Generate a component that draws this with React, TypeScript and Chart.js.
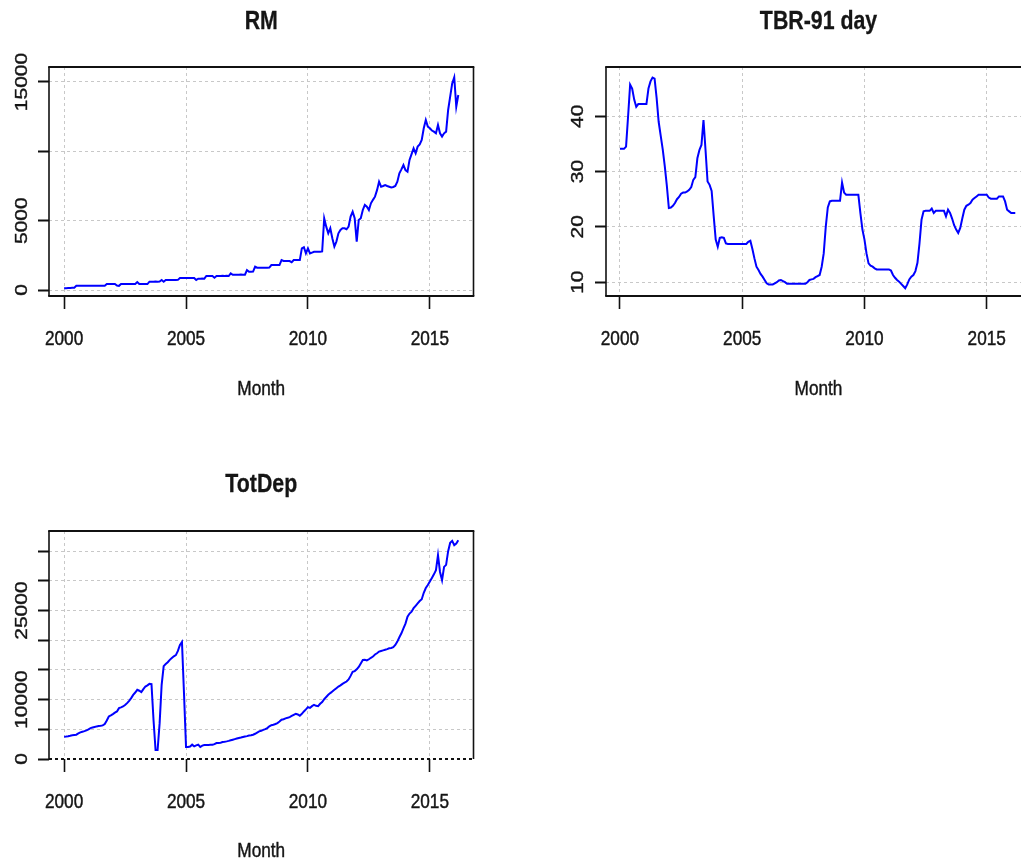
import React, { useEffect, useRef } from "react";
import { Chart, registerables } from "chart.js";

Chart.register(...registerables);

// ---------- data ----------
const START_YEAR = 2000; // monthly series, first observation January 2000

const xTicks = [2000, 2005, 2010, 2015];
const xTickLabels = ["2000", "2005", "2010", "2015"];

const rmValues = [
  120, 130, 140, 150, 160, 170, 300, 305, 305, 310, 310, 310,
  310, 310, 310, 310, 310, 310, 310, 310, 310, 430, 430, 430,
  430, 430, 320, 300, 430, 430, 430, 430, 430, 430, 430, 430,
  575, 430, 430, 430, 430, 430, 600, 600, 600, 610, 600, 610,
  720, 600, 720, 720, 730, 720, 730, 720, 730, 865, 865, 870,
  865, 870, 865, 870, 870, 720, 820, 820, 830, 820, 1010, 1010,
  1010, 1010, 890, 1010, 1010, 1010, 1020, 1010, 1020, 1010, 1200, 1100,
  1100, 1100, 1100, 1110, 1100, 1100, 1440, 1320, 1320, 1330, 1680, 1610,
  1610, 1610, 1610, 1610, 1610, 1620, 1800, 1800, 1800, 1810, 1800, 2160,
  2090, 2090, 2090, 2090, 2000, 2160, 2160, 2160, 2160, 3000, 3080, 2640,
  3000, 2640, 2700, 2760, 2760, 2760, 2760, 2780, 5170, 4570, 4090, 4450,
  3730, 3130, 3490, 4090, 4330, 4450, 4450, 4380, 4570, 5290, 5650, 5170,
  3490, 5050, 5170, 5770, 6130, 6010, 5770, 6250, 6500, 6730, 7200, 7810,
  7450, 7500, 7570, 7500, 7450, 7400, 7430, 7500, 7810, 8410, 8700, 9010,
  8650, 8530, 9380, 9800, 10220, 9860, 10340, 10500, 10820, 11660, 12260, 11780,
  11660, 11500, 11420, 11300, 11900, 11300, 11060, 11300, 11420, 12980, 13940, 14900,
  15340, 13220, 14060,
];

const tbrValues = [
  34.1, 34.1, 34.1, 34.5, 40.0, 45.7, 45.0, 43.0, 41.7, 42.2, 42.2, 42.2,
  42.2, 42.2, 45.0, 46.3, 47.0, 46.8, 43.3, 39.0, 36.5, 34.0, 31.0, 27.5,
  23.4, 23.5, 23.8, 24.3, 25.0, 25.4, 26.0, 26.2, 26.2, 26.4, 26.7, 27.2,
  28.5, 29.0, 32.4, 33.9, 34.8, 39.3, 33.9, 28.2, 27.6, 26.5, 22.0, 17.7,
  16.4, 18.0, 18.1, 18.0, 17.0, 16.9, 16.9, 16.9, 16.9, 16.9, 16.9, 16.9,
  16.9, 16.9, 16.9, 17.3, 17.5, 16.0, 14.3, 12.8, 12.2, 11.5, 11.0, 10.4,
  9.8, 9.6, 9.6, 9.6, 9.8, 10.0, 10.3, 10.4, 10.2, 10.0, 9.7, 9.7,
  9.7, 9.7, 9.7, 9.7, 9.7, 9.7, 9.7, 9.7, 10.0, 10.4, 10.5, 10.6,
  10.9, 11.1, 11.3, 12.8, 15.2, 20.0, 23.5, 24.6, 24.7, 24.7, 24.7, 24.7,
  24.7, 28.0, 26.2, 25.8, 25.8, 25.8, 25.8, 25.8, 25.8, 25.8, 22.5, 19.5,
  17.7, 15.2, 13.4, 13.0, 12.8, 12.5, 12.3, 12.3, 12.3, 12.3, 12.3, 12.3,
  12.3, 12.1, 11.3, 10.8, 10.4, 10.1, 9.7, 9.3, 8.9, 9.6, 10.5, 11.0,
  11.3, 12.0, 13.5, 17.0, 21.3, 22.8, 22.9, 22.9, 22.9, 23.3, 22.5, 22.9,
  22.9, 22.9, 22.9, 22.9, 21.9, 23.1, 22.5, 21.5, 20.3, 19.5, 18.9, 19.8,
  21.5, 23.1, 23.8, 24.0, 24.3, 24.9, 25.2, 25.5, 25.8, 25.8, 25.8, 25.8,
  25.8, 25.3, 25.1, 25.1, 25.1, 25.1, 25.5, 25.5, 25.5, 24.6, 23.1, 22.8,
  22.5, 22.5, 22.5,
];

const totDepValues = [
  3760, 3800, 3850, 3920, 4000, 4050, 4090, 4300, 4480, 4600, 4700, 4820,
  5000, 5200, 5300, 5400, 5490, 5550, 5600, 5660, 5880, 6500, 7170, 7350,
  7560, 7800, 8010, 8570, 8700, 8850, 9100, 9410, 9800, 10250, 10800, 11200,
  11650, 11500, 11260, 11760, 12210, 12400, 12660, 12620, 6560, 1500, 1500, 6000,
  12500, 15650, 16000, 16300, 16700, 17000, 17300, 17500, 18200, 19200, 19700, 11050,
  2020, 2020, 2100, 2410, 2130, 2300, 2410, 2020, 2250, 2350, 2350, 2350,
  2380, 2410, 2500, 2690, 2700, 2750, 2850, 2900, 2970, 3050, 3150, 3250,
  3350, 3450, 3550, 3620, 3700, 3780, 3850, 3950, 4000, 4090, 4250, 4450,
  4650, 4750, 4900, 5040, 5200, 5500, 5700, 5770, 5900, 6050, 6300, 6610,
  6700, 6850, 6950, 7060, 7250, 7450, 7620, 7500, 7300, 7600, 8010, 8350,
  8740, 8600, 8900, 9130, 8950, 8900, 9300, 9600, 10080, 10450, 10810, 11100,
  11370, 11650, 11930, 12200, 12400, 12660, 12850, 13050, 13400, 14000, 14670, 14800,
  15100, 15500, 16100, 16690, 16700, 16600, 16800, 17050, 17250, 17600, 17810, 18090,
  18200, 18300, 18400, 18500, 18650, 18700, 18820, 19200, 19770, 20500, 21170, 22000,
  22800, 23970, 24500, 24810, 25400, 25800, 26210, 26600, 26900, 28000, 28800, 29290,
  29900, 30500, 31100, 31800, 34330, 31500, 30120, 32360, 32700, 35000, 36400, 36740,
  36010, 36300, 36850,
];

const rmYTicks = [0, 5000, 10000, 15000];
const rmYLabels = ["0", "5000", "", "15000"];
const tbrYTicks = [10, 20, 30, 40];
const tbrYLabels = ["10", "20", "30", "40"];
const totYTicks = [0, 5000, 10000, 15000, 20000, 25000, 30000, 35000];
const totYLabels = ["0", "", "10000", "", "", "25000", "", ""];

// ---------- layout / style ----------
const CW = 1040;
const CH = 867;
const SX = 0.82; // horizontal squeeze of the reference's lettering
const FONT = '"Liberation Sans", Arial, Helvetica, sans-serif';
const TEXT = "#151515";
const GRID = "#c8c8c8";
const LINE = "#0000ff";

type Panel = {
  title: string;
  values: number[];
  yTicks: number[];
  yLabels: string[];
  xMin: number;
  xMax: number;
  yMin: number;
  yMax: number;
  area: { l: number; t: number; r: number; b: number };
  titleY: number;
  xLabelY: number;
  monthY: number;
  yLabelX: number;
  dottedBottom: boolean;
};

const PANELS: Panel[] = [
  {
    title: "RM",
    values: rmValues,
    yTicks: rmYTicks,
    yLabels: rmYLabels,
    xMin: 1999.38,
    xMax: 2016.79,
    yMin: -432,
    yMax: 16080,
    area: { l: 49, t: 67, r: 473.5, b: 296 },
    titleY: 28.5,
    xLabelY: 344.5,
    monthY: 394.5,
    yLabelX: 26.5,
    dottedBottom: false,
  },
  {
    title: "TBR-91 day",
    values: tbrValues,
    yTicks: tbrYTicks,
    yLabels: tbrYLabels,
    xMin: 1999.43,
    xMax: 2016.81,
    yMin: 7.5,
    yMax: 48.9,
    area: { l: 606, t: 67, r: 1031, b: 296 },
    titleY: 28.5,
    xLabelY: 344.5,
    monthY: 394.5,
    yLabelX: 582.5,
    dottedBottom: false,
  },
  {
    title: "TotDep",
    values: totDepValues,
    yTicks: totYTicks,
    yLabels: totYLabels,
    xMin: 1999.38,
    xMax: 2016.79,
    yMin: 0,
    yMax: 38400,
    area: { l: 49, t: 531, r: 473.5, b: 759 },
    titleY: 491.5,
    xLabelY: 808,
    monthY: 857,
    yLabelX: 26.5,
    dottedBottom: true,
  },
];

function drawText(
  ctx: CanvasRenderingContext2D,
  text: string,
  x: number,
  y: number,
  font: string,
  rotate = false,
  stroke = 0.45
) {
  if (!text) return;
  ctx.save();
  ctx.translate(x, y);
  ctx.scale(SX, 1);
  if (rotate) ctx.rotate(-Math.PI / 2);
  ctx.font = font;
  ctx.fillStyle = TEXT;
  ctx.strokeStyle = TEXT;
  ctx.lineWidth = stroke;
  ctx.textAlign = "center";
  ctx.textBaseline = "alphabetic";
  ctx.fillText(text, 0, 0);
  if (stroke > 0) ctx.strokeText(text, 0, 0);
  ctx.restore();
}

function line(ctx: CanvasRenderingContext2D, x1: number, y1: number, x2: number, y2: number) {
  ctx.beginPath();
  ctx.moveTo(x1, y1);
  ctx.lineTo(x2, y2);
  ctx.stroke();
}

function makePlugin(p: Panel) {
  return {
    id: "rStyle",
    afterDraw(chart: any) {
      const ctx: CanvasRenderingContext2D = chart.ctx;
      const { left, top, right, bottom } = chart.chartArea;
      const xs = chart.scales.x;
      const ys = chart.scales.y;

      // box
      ctx.save();
      ctx.strokeStyle = "#111";
      ctx.setLineDash([]);
      ctx.lineWidth = 2;
      line(ctx, left - 0.8, top, right + 0.8, top);
      if (p.dottedBottom) {
        ctx.setLineDash([3, 3]);
        line(ctx, left, bottom, right + 0.8, bottom);
        ctx.setLineDash([]);
      } else {
        line(ctx, left - 0.8, bottom, right + 0.8, bottom);
      }
      ctx.lineWidth = 1.6;
      line(ctx, left, top, left, bottom);
      line(ctx, right, top, right, bottom);
      ctx.restore();

      const cx = (left + right) / 2;
      drawText(ctx, p.title, cx, p.titleY, `bold 26px ${FONT}`, false, 0.3);
      xTicks.forEach((v, i) => {
        drawText(ctx, xTickLabels[i], xs.getPixelForValue(v), p.xLabelY, `21px ${FONT}`);
      });
      p.yTicks.forEach((v, i) => {
        drawText(ctx, p.yLabels[i], p.yLabelX, ys.getPixelForValue(v), `21px ${FONT}`, true);
      });
      drawText(ctx, "Month", cx, p.monthY, `21px ${FONT}`);
    },
  };
}

function PanelChart({ panel }: { panel: Panel }) {
  const ref = useRef<HTMLCanvasElement | null>(null);

  useEffect(() => {
    if (!ref.current) return;
    const p = panel;
    const points = p.values.map((v, i) => ({ x: START_YEAR + i / 12, y: v }));
    const chart = new Chart(ref.current, {
      type: "line",
      data: {
        datasets: [
          {
            data: points,
            borderColor: LINE,
            borderWidth: 2,
            pointRadius: 0,
            tension: 0,
            fill: false,
          },
        ],
      },
      options: {
        responsive: false,
        animation: false,
        devicePixelRatio: 1,
        events: [],
        layout: { padding: { left: 0, top: p.area.t, right: CW - p.area.r, bottom: 0 } },
        plugins: {
          legend: { display: false },
          tooltip: { enabled: false },
          title: { display: false },
        },
        scales: {
          x: {
            type: "linear",
            position: "bottom",
            min: p.xMin,
            max: p.xMax,
            afterBuildTicks: (s: any) => {
              s.ticks = xTicks.map((v) => ({ value: v }));
            },
            afterFit: (s: any) => {
              s.height = CH - p.area.b;
            },
            ticks: { display: false },
            grid: {
              color: GRID,
              lineWidth: 1,
              drawTicks: true,
              tickLength: 13,
              tickWidth: 1.6,
              tickColor: "#111",
              tickBorderDash: [],
            },
            border: { display: false, dash: [3, 3] },
          },
          y: {
            type: "linear",
            position: "left",
            min: p.yMin,
            max: p.yMax,
            afterBuildTicks: (s: any) => {
              s.ticks = p.yTicks.map((v) => ({ value: v }));
            },
            afterFit: (s: any) => {
              s.width = p.area.l;
            },
            ticks: { display: false },
            grid: {
              color: (c: any) =>
                p.dottedBottom && c.tick && c.tick.value === 0 ? "rgba(0,0,0,0)" : GRID,
              lineWidth: 1,
              drawTicks: true,
              tickLength: 11,
              tickWidth: 2,
              tickColor: "#111",
              tickBorderDash: [],
            },
            border: { display: false, dash: [3, 3] },
          },
        },
      } as any,
      plugins: [makePlugin(p)],
    });
    return () => chart.destroy();
  }, [panel]);

  return (
    <canvas
      ref={ref}
      width={CW}
      height={CH}
      style={{ position: "absolute", left: 0, top: 0, width: CW, height: CH }}
    />
  );
}

export default function App() {
  return (
    <div
      style={{
        position: "fixed",
        left: 0,
        top: 0,
        width: 1021,
        height: 867,
        overflow: "hidden",
        background: "#ffffff",
      }}
    >
      {PANELS.map((p) => (
        <PanelChart key={p.title} panel={p} />
      ))}
    </div>
  );
}
